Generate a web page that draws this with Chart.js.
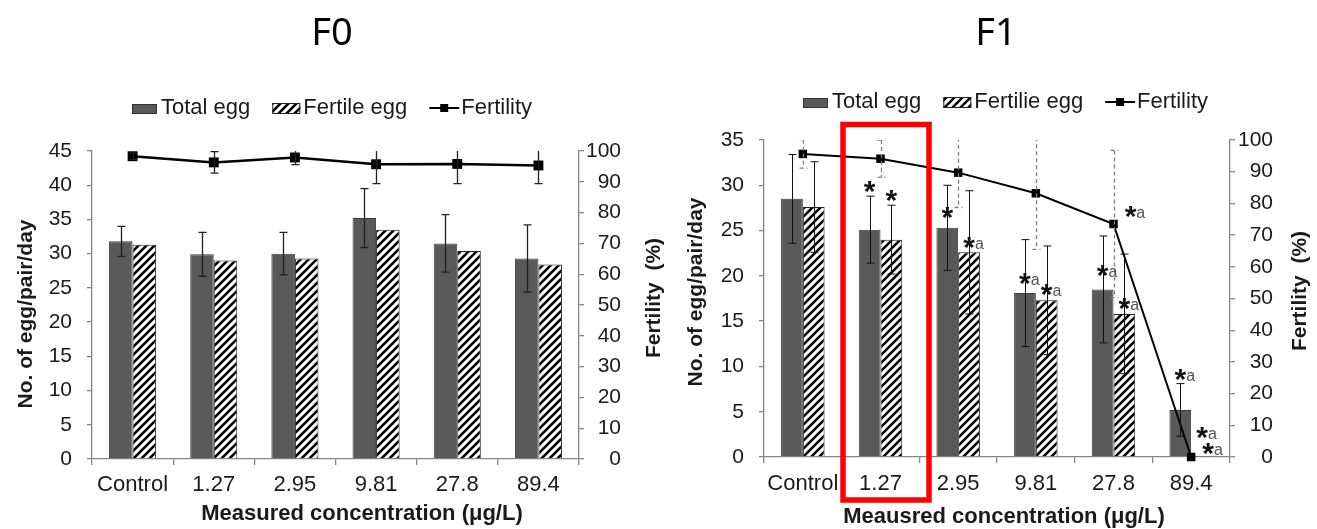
<!DOCTYPE html>
<html>
<head>
<meta charset="utf-8">
<title>F0 / F1 egg production</title>
<script src="https://cdn.jsdelivr.net/npm/chart.js@4.4.1/dist/chart.umd.min.js"></script>
<style>
  html, body { margin: 0; padding: 0; background: #fff; }
  body { position: relative; width: 1317px; height: 529px; overflow: hidden; }
  canvas { position: absolute; top: 0; }
  #f0 { left: 0; }
  #f1 { left: 660px; }
</style>
</head>
<body>
<canvas id="f0" width="668" height="529"></canvas>
<canvas id="f1" width="657" height="529"></canvas>
<script>
const categories = ['Control', '1.27', '2.95', '9.81', '27.8', '89.4'];

// F0
const f0Total = [31.8, 29.9, 30.0, 35.2, 31.5, 29.3];
const f0TotalErr = [2.2, 3.2, 3.1, 4.3, 4.2, 4.9];
const f0Fertile = [31.3, 29.0, 29.3, 33.5, 30.4, 28.4];
const f0Fertility = [98.3, 96.3, 97.9, 95.7, 95.8, 95.3];
const f0FertilityErr = [1.0, 3.5, 2.3, 6.3, 6.4, 5.9];

// F1
const f1Total = [28.5, 25.1, 25.3, 18.1, 18.5, 5.2];
const f1TotalErr = [4.9, 3.7, 4.7, 5.9, 5.9, 2.9];
const f1Fertile = [27.6, 24.0, 22.6, 17.3, 15.8, 0];
const f1FertileErr = [5.0, 3.8, 6.8, 6.0, 6.6, 0];
const f1Fertility = [95.6, 94.1, 89.7, 83.2, 73.5, 0];
const f1FertilityErr = [4.5, 5.9, 11.0, 17.7, 23.2, 0];

// significance marks and the level (on their own axis) where they sit
const f1TotalMarks = ['', '*', '*', '*a', '*a', '*a'];
const f1TotalMarkAt = [null, 29.8, 26.9, 19.6, 20.5, 9.1];
const f1FertileMarks = ['', '*', '*a', '*a', '*a', '*a'];
const f1FertileMarkAt = [null, 28.8, 23.6, 18.4, 16.9, 2.6];
const f1FertilityMarks = ['', '', '', '', '*a', '*a'];
const f1FertilityMarkAt = [null, null, null, null, 77.3, 2.5];

const FONT = '"Liberation Sans", Arial, sans-serif';
const AXIS = '#868686';
const INK = '#1a1a1a';
const TOTAL = '#595959';

function hatch(ctx) {
  const c = document.createElement('canvas');
  c.width = 8; c.height = 8;
  const g = c.getContext('2d');
  g.fillStyle = '#fff'; g.fillRect(0, 0, 8, 8);
  g.strokeStyle = '#000'; g.lineWidth = 2.6;
  g.beginPath();
  g.moveTo(-2, 10); g.lineTo(10, -2);
  g.moveTo(-6, 6); g.lineTo(6, -6);
  g.moveTo(2, 14); g.lineTo(14, 2);
  g.stroke();
  return ctx.createPattern(c, 'repeat');
}

function drawErr(chart, ds, vals, errs, scale, st) {
  const ctx = chart.ctx, a = chart.chartArea, pts = chart.getDatasetMeta(ds).data;
  ctx.save();
  ctx.beginPath();
  ctx.rect(a.left, a.top, a.right - a.left, a.bottom - a.top);
  ctx.clip();
  ctx.strokeStyle = st.color; ctx.lineWidth = st.width; ctx.setLineDash(st.dash || []);
  vals.forEach((v, i) => {
    const e = errs[i];
    if (!e) return;
    const x = Math.round(pts[i].x) + 0.5;
    const hi = scale.getPixelForValue(v + e), lo = scale.getPixelForValue(v - e);
    ctx.beginPath();
    ctx.moveTo(x, hi); ctx.lineTo(x, lo);
    ctx.moveTo(x - st.cap, hi); ctx.lineTo(x + st.cap, hi);
    ctx.moveTo(x - st.cap, lo); ctx.lineTo(x + st.cap, lo);
    ctx.stroke();
  });
  ctx.restore();
}

function drawMarks(chart, ds, marks, levels, scale, dx) {
  const ctx = chart.ctx, pts = chart.getDatasetMeta(ds).data;
  ctx.save();
  marks.forEach((m, i) => {
    if (!m) return;
    const cx = pts[i].x + dx, cy = scale.getPixelForValue(levels[i]);
    ctx.font = 'bold 30px ' + FONT; ctx.fillStyle = '#111';
    ctx.textAlign = 'center'; ctx.textBaseline = 'alphabetic';
    const mt = ctx.measureText('*');
    const base = cy + (mt.actualBoundingBoxAscent - mt.actualBoundingBoxDescent) / 2;
    ctx.fillText('*', cx, base);
    if (m.length > 1) {
      ctx.font = '16px ' + FONT; ctx.fillStyle = '#555'; ctx.textAlign = 'left';
      ctx.fillText(m.slice(1), cx + mt.width / 2, base + mt.actualBoundingBoxDescent);
    }
  });
  ctx.restore();
}

function drawRot(ctx, text, x, y, font) {
  ctx.save();
  ctx.translate(x, y); ctx.rotate(-Math.PI / 2);
  ctx.font = font; ctx.fillStyle = INK;
  ctx.textAlign = 'center'; ctx.textBaseline = 'middle';
  ctx.fillText(text, 0, 0);
  ctx.restore();
}

function drawLegend(ctx, o, stripes) {
  let x = o.legendX; const b = o.legendY;
  ctx.save();
  ctx.font = '22px ' + FONT; ctx.textBaseline = 'alphabetic'; ctx.textAlign = 'left';
  ctx.fillStyle = TOTAL; ctx.fillRect(x, b - 10, 25, 10);
  ctx.strokeStyle = '#333'; ctx.lineWidth = 1; ctx.strokeRect(x + 0.5, b - 9.5, 24, 9);
  x += 29; ctx.fillStyle = INK; ctx.fillText('Total egg', x, b);
  x += ctx.measureText('Total egg').width + 22;
  ctx.fillStyle = stripes; ctx.fillRect(x, b - 11, 28, 11);
  ctx.strokeStyle = '#222'; ctx.strokeRect(x + 0.5, b - 10.5, 27, 10);
  x += 31; ctx.fillStyle = INK; ctx.fillText(o.fertileLabel, x, b);
  x += ctx.measureText(o.fertileLabel).width + 22;
  ctx.strokeStyle = '#000'; ctx.lineWidth = 2;
  ctx.beginPath(); ctx.moveTo(x, b - 6); ctx.lineTo(x + 30, b - 6); ctx.stroke();
  ctx.fillStyle = '#000'; ctx.fillRect(x + 11, b - 10, 8, 8);
  x += 32; ctx.fillStyle = INK; ctx.fillText('Fertility', x, b);
  ctx.restore();
}

function build(id, o) {
  const ctx = document.getElementById(id).getContext('2d');
  const stripes = hatch(ctx);

  const extras = {
    id: 'extras',
    afterDatasetsDraw(chart) {
      const y = chart.scales.y, y1 = chart.scales.y1;
      drawErr(chart, 1, o.total, o.totalErr, y, o.barErr);
      if (o.fertileErr) drawErr(chart, 2, o.fertile, o.fertileErr, y, o.barErr);
      drawErr(chart, 0, o.fertility, o.fertilityErr, y1, o.lineErr);
      if (o.marks) {
        drawMarks(chart, 1, o.marks.total, o.marks.totalAt, y, 0);
        drawMarks(chart, 2, o.marks.fertile, o.marks.fertileAt, y, 0);
        drawMarks(chart, 0, o.marks.fertility, o.marks.fertilityAt, y1, 17);
      }
    },
    afterDraw(chart) {
      const c = chart.ctx;
      c.save();
      c.font = '38px "Noto Sans", "Open Sans", sans-serif';
      c.fillStyle = '#000'; c.textAlign = 'center'; c.textBaseline = 'alphabetic';
      c.fillText(o.title, o.titleX, 45);
      c.font = 'bold 22px ' + FONT; c.fillStyle = INK;
      c.fillText(o.xTitle, o.xTitleX, o.xTitleY);
      c.restore();
      drawRot(c, 'No. of egg/pair/day', o.leftTitle[0], o.leftTitle[1], 'bold 21px ' + FONT);
      drawRot(c, 'Fertility  (%)', o.rightTitle[0], o.rightTitle[1], 'bold 21px ' + FONT);
      drawLegend(c, o, stripes);
      if (o.highlight != null) {
        const a = chart.chartArea;
        const cx = chart.scales.x.getPixelForValue(o.highlight) + 5.5;
        c.save();
        c.strokeStyle = '#ff0000'; c.lineWidth = 5.5;
        c.strokeRect(cx - 43, a.top - 15.5, 86, 500 - (a.top - 15.5));
        c.restore();
      }
    }
  };

  const tickFont = { family: FONT, size: 21 };
  return new Chart(ctx, {
    type: 'bar',
    data: {
      labels: categories,
      datasets: [
        { type: 'line', label: 'Fertility', data: o.fertility, yAxisID: 'y1',
          borderColor: '#000', borderWidth: o.lineWidth, pointStyle: 'rect',
          pointRadius: o.pointRadius, pointBackgroundColor: '#000', pointBorderColor: '#000',
          pointBorderWidth: 0, tension: 0, clip: false, order: 0 },
        { label: 'Total egg', data: o.total, yAxisID: 'y',
          backgroundColor: TOTAL, borderColor: '#3c3c3c', borderWidth: 1, order: 1 },
        { label: o.fertileLabel, data: o.fertile, yAxisID: 'y',
          backgroundColor: stripes, borderColor: '#222', borderWidth: 1, minBarLength: 1, order: 1 }
      ]
    },
    options: {
      responsive: false, animation: false, devicePixelRatio: 1,
      layout: { padding: { top: o.top, left: 0, right: o.padRight, bottom: 0 } },
      datasets: { bar: { categoryPercentage: o.catPct, barPercentage: 1 } },
      plugins: { legend: { display: false }, tooltip: { enabled: false } },
      scales: {
        x: {
          grid: { display: true, offset: true, drawOnChartArea: false, drawTicks: true,
                  tickLength: 6, color: AXIS, lineWidth: 1.3 },
          border: { display: true, color: AXIS, width: 1.3 },
          ticks: { color: INK, font: { family: FONT, size: 22 }, padding: o.xPad,
                   maxRotation: 0, autoSkip: false },
          afterFit(s) { s.height = o.xHeight; }
        },
        y: {
          position: 'left', min: 0, max: o.yMax,
          ticks: { stepSize: 5, color: INK, font: tickFont, padding: 15 },
          grid: { drawOnChartArea: false, drawTicks: true, tickLength: 5, color: AXIS, lineWidth: 1.3 },
          border: { color: AXIS, width: 1.3 },
          afterFit(s) { s.width = o.left; }
        },
        y1: {
          position: 'right', min: 0, max: 100,
          ticks: { stepSize: 10, color: INK, font: tickFont, padding: 2, crossAlign: 'far' },
          grid: { drawOnChartArea: false, drawTicks: true, tickLength: 5, color: AXIS, lineWidth: 1.3 },
          border: { color: AXIS, width: 1.3 },
          afterFit(s) { s.width = o.rightW; }
        }
      }
    },
    plugins: [extras]
  });
}

build('f0', {
  title: 'F0', titleX: 332,
  total: f0Total, totalErr: f0TotalErr,
  fertile: f0Fertile, fertileErr: null,
  fertility: f0Fertility, fertilityErr: f0FertilityErr,
  fertileLabel: 'Fertile egg',
  yMax: 45, top: 151, left: 92, rightW: 42, padRight: 47, xHeight: 70, xPad: 7, catPct: 0.58,
  lineWidth: 2.5, pointRadius: 7,
  barErr: { color: '#222', width: 1.3, cap: 4 },
  lineErr: { color: '#222', width: 1.3, cap: 4 },
  xTitle: 'Measured concentration (\u03bcg/L)', xTitleX: 362, xTitleY: 520,
  leftTitle: [26, 314], rightTitle: [654, 298],
  legendX: 132, legendY: 114,
  highlight: null
});

build('f1', {
  title: 'F1', titleX: 336,
  total: f1Total, totalErr: f1TotalErr,
  fertile: f1Fertile, fertileErr: f1FertileErr,
  fertility: f1Fertility, fertilityErr: f1FertilityErr,
  fertileLabel: 'Fertilie egg',
  yMax: 35, top: 140, left: 104, rightW: 43, padRight: 44, xHeight: 72, xPad: 8, catPct: 0.56,
  lineWidth: 2, pointRadius: 6,
  barErr: { color: '#111', width: 1, cap: 4 },
  lineErr: { color: '#808080', width: 1.3, cap: 4, dash: [4, 3] },
  marks: {
    total: f1TotalMarks, totalAt: f1TotalMarkAt,
    fertile: f1FertileMarks, fertileAt: f1FertileMarkAt,
    fertility: f1FertilityMarks, fertilityAt: f1FertilityMarkAt
  },
  xTitle: 'Meausred concentration (\u03bcg/L)', xTitleX: 344, xTitleY: 523,
  leftTitle: [36, 292], rightTitle: [640, 291],
  legendX: 143, legendY: 108,
  highlight: 1
});
</script>
</body>
</html>
